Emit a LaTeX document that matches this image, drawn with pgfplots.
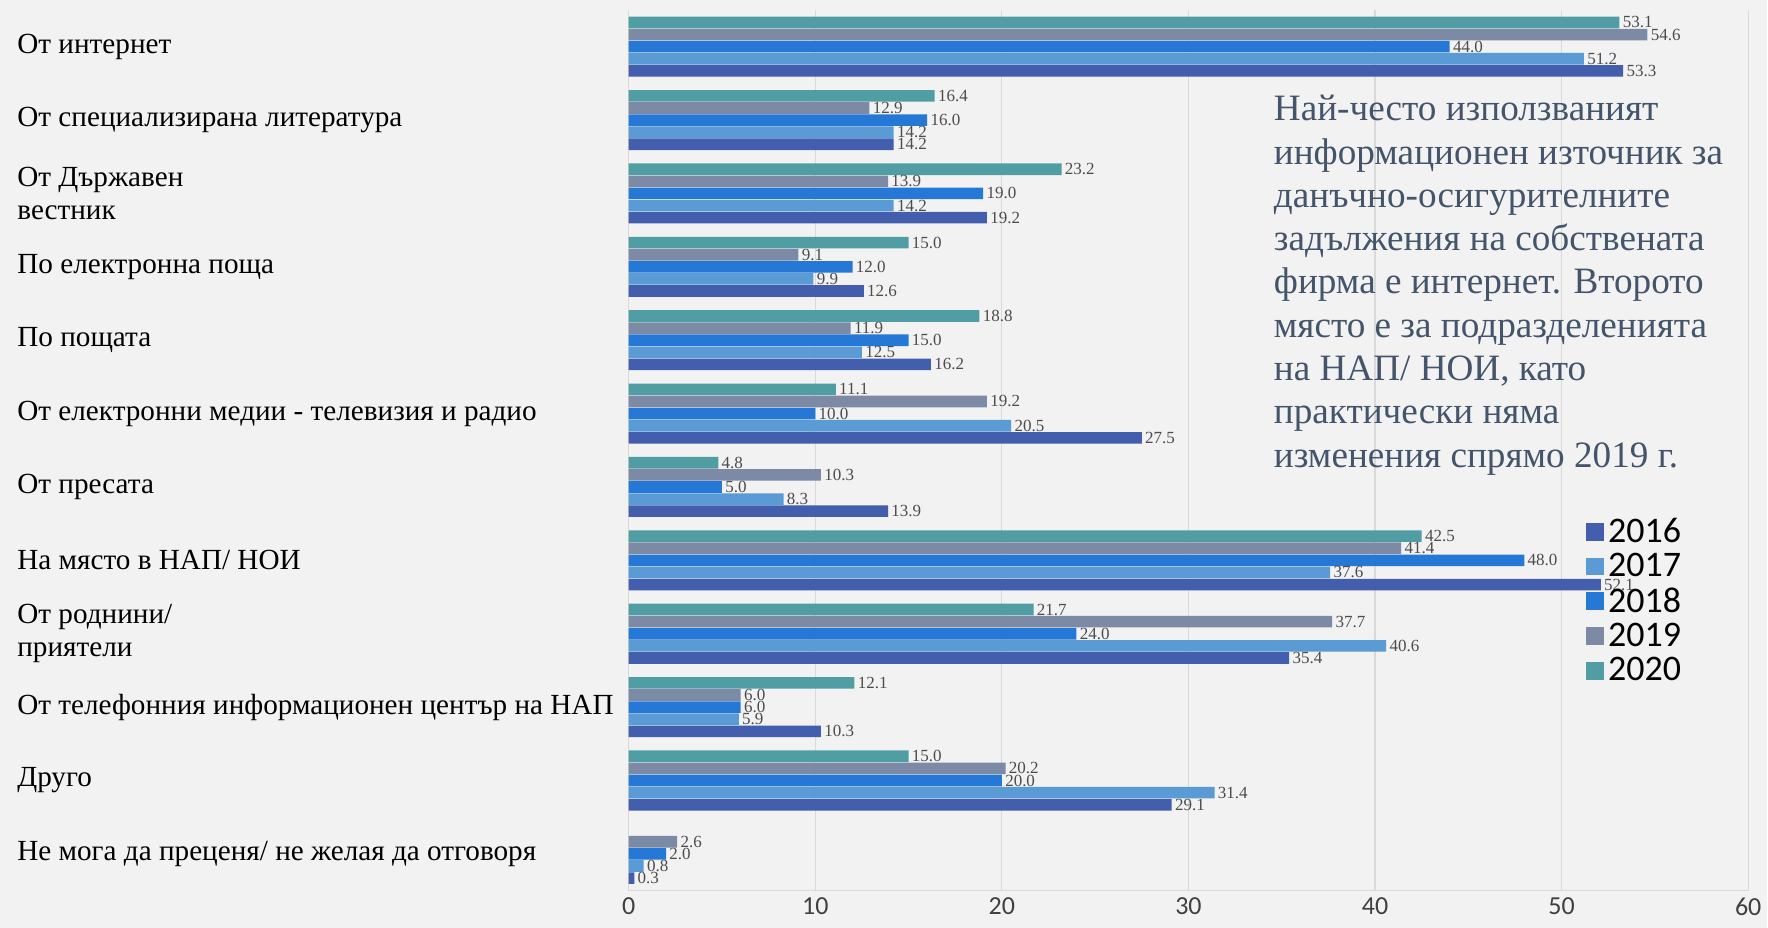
\documentclass[border=0pt]{standalone}
\usepackage{pgfplots}
\pgfplotsset{compat=1.18}
\usepackage{fontspec}
\setmainfont{Liberation Serif}
\newfontfamily\carlito{Carlito}
\definecolor{bgc}{RGB}{242,242,242}
\definecolor{gridc}{RGB}{217,217,217}
\definecolor{cA}{RGB}{66,94,172}
\definecolor{cB}{RGB}{91,155,213}
\definecolor{cC}{RGB}{38,120,215}
\definecolor{cD}{RGB}{125,138,165}
\definecolor{cE}{RGB}{80,158,163}
\definecolor{txtc}{RGB}{68,84,106}
\begin{document}
\begin{tikzpicture}
\fill[bgc] (-314.5bp,-18.5bp) rectangle (569.5bp,445.5bp);
\begin{axis}[
  scale only axis,
  width=560bp, height=440.5bp,
  xbar, bar width=0.158,
  xmin=0, xmax=60, ymin=-0.5, ymax=11.5,
  xtick={0,10,...,60},
  ytick={0,...,11},
  yticklabels={{Не мога да преценя/ не желая да отговоря},{Друго},{От телефонния информационен център на НАП},{От роднини/\\приятели},{На място в НАП/ НОИ},{От пресата},{От електронни медии - телевизия и радио},{По пощата},{По електронна поща},{От Държавен\\вестник},{От специализирана литература},{От интернет}},
  yticklabel style={anchor=west, align=left, inner sep=0pt, xshift=-306bp, font=\fontsize{14.6bp}{16.5bp}\selectfont},
  xticklabel style={font=\carlito\fontsize{13bp}{15bp}\selectfont, text=black!75},
  /pgf/number format/assume math mode=true,
  major tick length=0pt,
  xmajorgrids, grid style={gridc, line width=0.6pt},
  axis x line*=bottom, axis y line*=left,
  axis line style={gridc, line width=0.6pt},
  nodes near coords,
  nodes near coords style={font=\fontsize{8.5bp}{9bp}\selectfont, text=black!70, inner sep=1.5bp, /pgf/number format/.cd, fixed, fixed zerofill, precision=1, assume math mode=true},
  every axis plot/.append style={draw=none},
  legend cell align=left,
  legend style={at={(rel axis cs:0.855,0.428)}, anchor=north west, draw=none, fill=none, font=\carlito\fontsize{18bp}{18.5bp}\selectfont, row sep=0pt, inner sep=0pt},
  legend image code/.code={\fill[#1] (0bp,-4.5bp) rectangle (9bp,4.5bp);},
  clip=false,
]
\addplot[fill=cA, bar shift=-0.33] coordinates {(53.3,11) (14.2,10) (19.2,9) (12.6,8) (16.2,7) (27.5,6) (13.9,5) (52.1,4) (35.4,3) (10.3,2) (29.1,1) (0.3,0)};
\addplot[fill=cB, bar shift=-0.165] coordinates {(51.2,11) (14.2,10) (14.2,9) (9.9,8) (12.5,7) (20.5,6) (8.3,5) (37.6,4) (40.6,3) (5.9,2) (31.4,1) (0.8,0)};
\addplot[fill=cC, bar shift=0] coordinates {(44.0,11) (16.0,10) (19.0,9) (12.0,8) (15.0,7) (10.0,6) (5.0,5) (48.0,4) (24.0,3) (6.0,2) (20.0,1) (2.0,0)};
\addplot[fill=cD, bar shift=0.165] coordinates {(54.6,11) (12.9,10) (13.9,9) (9.1,8) (11.9,7) (19.2,6) (10.3,5) (41.4,4) (37.7,3) (6.0,2) (20.2,1) (2.6,0)};
\addplot[fill=cE, bar shift=0.33] coordinates {(53.1,11) (16.4,10) (23.2,9) (15.0,8) (18.8,7) (11.1,6) (4.8,5) (42.5,4) (21.7,3) (12.1,2) (15.0,1)};
\legend{2016,2017,2018,2019,2020}
\node[anchor=north west, inner sep=0pt, align=left, text=txtc, font=\fontsize{18.6bp}{21.65bp}\selectfont] at (rel axis cs:0.576,0.9035) {Най-често използваният\\информационен източник за\\данъчно-осигурителните\\задължения на собствената\\фирма е интернет. Второто\\място е за подразделенията\\на НАП/ НОИ, като\\практически няма\\изменения спрямо 2019 г.};
\end{axis}
\end{tikzpicture}
\end{document}
